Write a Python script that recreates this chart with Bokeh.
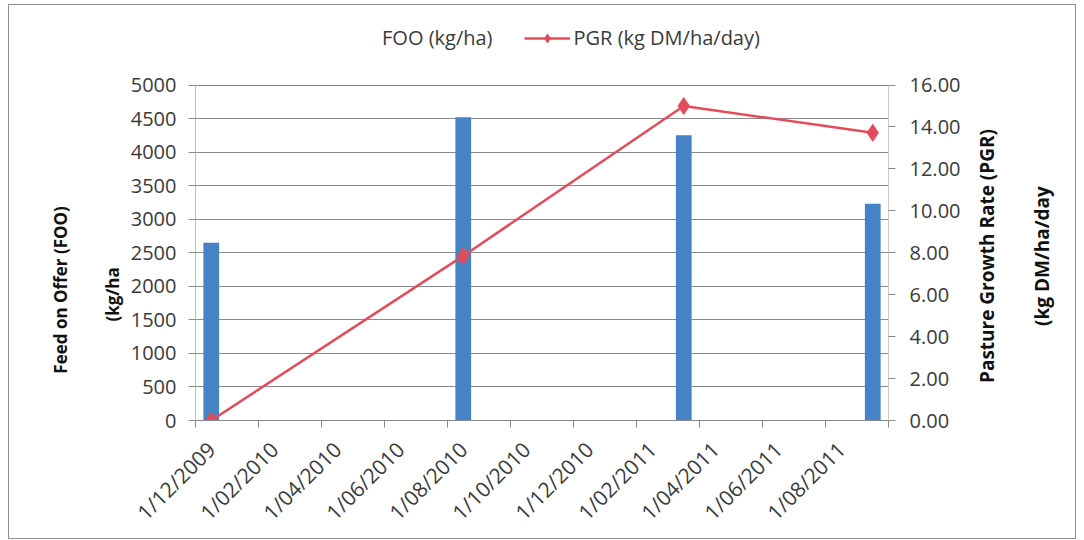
import math
from bokeh.plotting import figure
from bokeh.layouts import row
from bokeh.models import (Range1d, LinearAxis, FixedTicker, Legend, LegendItem,
                          ColumnDataSource, PrintfTickFormatter)
from bokeh.embed import file_html
from bokeh.resources import INLINE

# ---------------- data ----------------
dates = ["1/12/2009", "1/08/2010", "1/03/2011", "1/09/2011"]
foo = [2650, 4520, 4250, 3230]          # kg/ha
pgr = [0.0, 7.85, 15.0, 13.72]          # kg DM/ha/day
x_labels = ["1/12/2009", "1/02/2010", "1/04/2010", "1/06/2010", "1/08/2010",
            "1/10/2010", "1/12/2010", "1/02/2011", "1/04/2011", "1/06/2011",
            "1/08/2011"]
axis_end = "1/10/2011"
foo_ticks = [0, 500, 1000, 1500, 2000, 2500, 3000, 3500, 4000, 4500, 5000]
pgr_ticks = [0, 2, 4, 6, 8, 10, 12, 14, 16]
foo_max, pgr_max = 5000, 16

FONT = "Open Sans"
BLUE = "#4683c4"
RED = "#e24d5c"
GRID = "#8a8a8a"
TXT = "#3a3a3a"
TITLE = "#111111"
NB = "\u00a0"   # non-breaking space, used to push a centred title downwards

# ---------------- layout (pixels) ----------------
H = 533
W_LEFT, W_MAIN, W_RIGHT = 118, 838, 110
B_LEFT, B_RIGHT, B_TOP, B_BOTTOM = 68, 77, 17, 115
AXIS_H = 338          # height of the 0..5000 axis span in px
frame_h = H - B_TOP - B_BOTTOM
ext = frame_h / AXIS_H  # headroom above the axes for the legend


def month_index(s):
    d, m, y = map(int, s.split("/"))
    return (y - 2009) * 12 + (m - 12)


xs = [month_index(d) for d in dates]
n_end = month_index(axis_end)
label_pos = [month_index(l) for l in x_labels]
boundaries = [i - 0.5 for i in range(0, n_end + 1, 2)]

src = ColumnDataSource(dict(x=xs, foo=foo, pgr=pgr))

p = figure(width=W_MAIN, height=H, output_backend="svg", toolbar_location=None,
           x_range=Range1d(-0.5, n_end - 0.5), y_range=Range1d(0, foo_max * ext),
           min_border_left=B_LEFT, min_border_right=B_RIGHT, min_border_top=B_TOP,
           min_border_bottom=B_BOTTOM)
p.extra_y_ranges = {"pgr": Range1d(0, pgr_max * ext)}
p.outline_line_color = None
p.background_fill_color = "white"
p.border_fill_color = "white"

bars = p.vbar(x="x", top="foo", width=0.5, source=src, fill_color=BLUE,
              line_color=None)
line = p.line(x="x", y="pgr", source=src, y_range_name="pgr", line_color=RED,
              line_width=2.5)
pts = p.scatter(x="x", y="pgr", source=src, y_range_name="pgr", marker="diamond",
                size=17, fill_color=RED, line_color=RED)
# legend swatch for the bars (thin horizontal band, as in the reference)
swatch = p.line(x=[], y=[], line_color=BLUE, line_width=8, line_cap="butt")

# x axis
xa = p.xaxis[0]
xa.ticker = FixedTicker(ticks=label_pos, minor_ticks=boundaries)
xa.major_label_overrides = {pos: lab for pos, lab in zip(label_pos, x_labels)}
xa.major_label_orientation = math.pi / 4
xa.major_tick_out = 0
xa.major_tick_in = 0
xa.minor_tick_out = 7
xa.minor_tick_in = 0
xa.minor_tick_line_color = GRID
xa.axis_line_color = GRID
xa.major_label_standoff = 18
xa.major_label_text_font = FONT
xa.major_label_text_font_size = "21px"
xa.major_label_text_color = TXT
p.xgrid.visible = False

# left axis (FOO) with ticks
ya = p.yaxis[0]
ya.bounds = (0, foo_max)
ya.ticker = FixedTicker(ticks=foo_ticks)
ya.major_tick_out = 7
ya.major_tick_in = 0
ya.minor_tick_line_color = None
ya.axis_line_color = "#b4bccb"
ya.major_tick_line_color = GRID
ya.major_label_standoff = 12
ya.major_label_text_font = FONT
ya.major_label_text_font_size = "20px"
ya.major_label_text_color = TXT
p.ygrid.ticker = FixedTicker(ticks=foo_ticks)
p.ygrid.grid_line_color = GRID
p.ygrid.grid_line_width = 1

# right axis (PGR) with ticks
ra = LinearAxis(y_range_name="pgr", ticker=FixedTicker(ticks=pgr_ticks),
                bounds=(0, pgr_max),
                formatter=PrintfTickFormatter(format="%.2f"),
                major_tick_out=7, major_tick_in=0, minor_tick_line_color=None,
                axis_line_color="#c8c8c8", major_tick_line_color=GRID,
                major_label_standoff=14, major_label_text_font=FONT,
                major_label_text_font_size="20px", major_label_text_color=TXT)
p.add_layout(ra, "right")

# legend (inside the headroom above the axes)
legend = Legend(items=[LegendItem(label="FOO (kg/ha)", renderers=[swatch]),
                       LegendItem(label="PGR (kg DM/ha/day)", renderers=[line, pts])],
                location=(137, 369), orientation="horizontal", glyph_width=46,
                glyph_height=22, padding=0, margin=0, spacing=31,
                border_line_color=None, background_fill_alpha=0,
                label_text_font=FONT, label_text_font_size="20px",
                label_text_color=TXT, label_standoff=4)
p.add_layout(legend, "center")


# ---------------- axis titles (side strips, read bottom-to-top) ----------------
def title_axis(label, standoff, size):
    return LinearAxis(ticker=FixedTicker(ticks=[]), axis_line_color=None,
                      major_tick_line_color=None, minor_tick_line_color=None,
                      major_tick_out=0, major_tick_in=0, major_label_standoff=0,
                      major_label_text_font_size="0px", axis_label=label,
                      axis_label_text_font=FONT, axis_label_text_font_style="bold",
                      axis_label_text_font_size=size, axis_label_text_color=TITLE,
                      axis_label_standoff=standoff)


def strip(width, titles):
    s = figure(width=width, height=H, output_backend="svg", toolbar_location=None,
               x_axis_location=None, y_axis_location=None,
               x_range=Range1d(0, 1), y_range=Range1d(0, 1),
               min_border_left=width - 2, min_border_right=0,
               min_border_top=B_TOP, min_border_bottom=B_BOTTOM)
    s.outline_line_color = None
    s.background_fill_color = "white"
    s.border_fill_color = "white"
    s.grid.visible = False
    for lab, so, size in titles:
        s.add_layout(title_axis(lab, so, size), "left")
    return s


p_left = strip(W_LEFT, [("(kg/ha" + NB * 33, 2, "17px"),
                        ("Feed on Offer (FOO)" + NB * 31, 26, "17px")])
p_right = strip(W_RIGHT, [("(kg DM/ha/day" + NB * 14, 19, "19px"),
                          ("Pasture Growth Rate (PGR)" + NB * 14, 26, "19px")])

layout = row(p_left, p, p_right)
layout.styles = {"margin-left": "9px", "margin-top": "5px",
                 "outline": "1.5px solid #8f8f8f"}

open("out.html", "w").write(file_html(layout, INLINE))
